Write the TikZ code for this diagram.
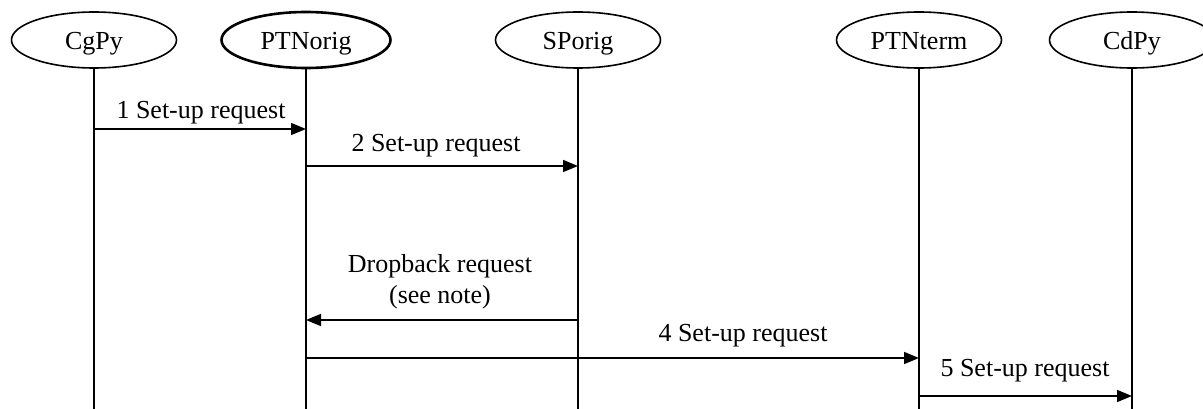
\documentclass[tikz,border=0pt]{standalone}
\usepackage{fontspec}
\setmainfont{Liberation Serif}
\usetikzlibrary{shapes.geometric,arrows.meta}
\begin{document}
\begin{tikzpicture}[x=1pt,y=-1pt,
  every node/.style={font=\fontsize{26}{31}\selectfont},
  ent/.style={ellipse,draw,line width=1.6pt,minimum width=165pt,minimum height=56pt,inner sep=0pt,text height=19pt,text depth=0pt},
  life/.style={line width=1.6pt},
  msg/.style={line width=1.6pt,-{Triangle[length=15pt,width=12pt]}},
  lbl/.style={inner sep=0pt,anchor=base,align=center}]
\useasboundingbox (0,0) rectangle (1203,409);
\clip (0,0) rectangle (1203,409);
\fill[white] (0,0) rectangle (1203,409);
% entities
\node[ent] (cg) at (94,40) {CgPy};
\node[ent,line width=2.6pt,minimum width=169pt] (po) at (306,40) {PTNorig};
\node[ent] (sp) at (578,40) {SPorig};
\node[ent] (pt) at (919,40) {PTNterm};
\node[ent] (cd) at (1132,40) {CdPy};
% lifeline ends
\coordinate (cgE) at (94,409);
\coordinate (poE) at (306,409);
\coordinate (spE) at (578,409);
\coordinate (ptE) at (919,409);
\coordinate (cdE) at (1132,409);
\draw[life] (cg) -- (cgE);
\draw[life] (po) -- (poE);
\draw[life] (sp) -- (spE);
\draw[life] (pt) -- (ptE);
\draw[life] (cd) -- (cdE);
% message points
\coordinate (m1a) at (94,129);  \coordinate (m1b) at (306,129);
\coordinate (m2a) at (306,166); \coordinate (m2b) at (578,166);
\coordinate (m3a) at (578,320); \coordinate (m3b) at (306,320);
\coordinate (m4a) at (306,358); \coordinate (m4b) at (919,358);
\coordinate (m5a) at (919,396); \coordinate (m5b) at (1132,396);
\draw[msg] (m1a) -- (m1b);
\draw[msg] (m2a) -- (m2b);
\draw[msg] (m3a) -- (m3b);
\draw[msg] (m4a) -- (m4b);
\draw[msg] (m5a) -- (m5b);
% labels
\node[lbl] (l1) at (201,119) {1 Set-up request};
\node[lbl] (l2) at (436,152) {2 Set-up request};
\node[lbl] (l3a) at (440,272) {Dropback request};
\node[lbl] (l3b) at (440,303) {(see note)};
\node[lbl] (l4) at (743,341) {4 Set-up request};
\node[lbl] (l5) at (1025,376) {5 Set-up request};
\end{tikzpicture}
\end{document}
